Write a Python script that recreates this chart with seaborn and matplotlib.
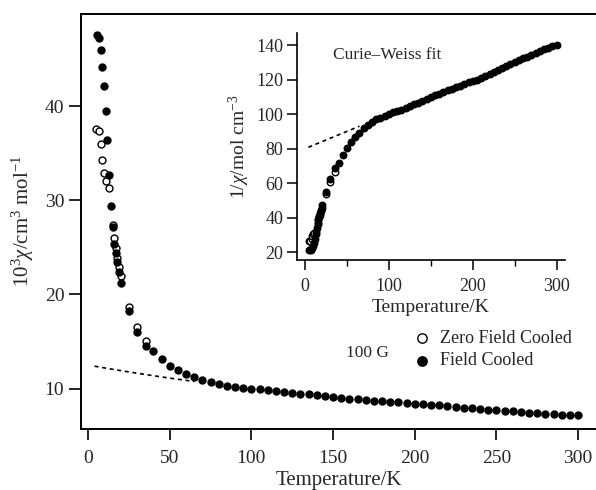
import numpy as np
import pandas as pd
import matplotlib
matplotlib.use('Agg')
import matplotlib.pyplot as plt
import seaborn as sns

# dados: temperatura (K) e 10^3 chi (cm3/mol)
fc_T = [5.3, 6.7, 7.7, 8.8, 9.6, 10.8, 11.8, 12.8, 14.1, 15.1, 15.8, 17.0, 18.0, 19.2, 20.2,
        25.3, 30.2, 35.3, 40, 45, 50, 55, 60, 65, 70, 75, 80, 85, 90, 95, 100, 105, 110,
        115, 120, 125, 130, 135, 140, 145, 150, 155, 160, 165, 170, 175, 180, 185, 190,
        195, 200, 205, 210, 215, 220, 225, 230, 235, 240, 245, 250, 255, 260, 265, 270,
        275, 280, 285, 290, 295, 300]
fc_chi = [47.55, 47.3, 46.0, 44.2, 42.1, 39.5, 36.4, 32.7, 29.4, 27.2, 25.4, 24.4, 23.4, 22.4, 21.2,
          18.2, 16.0, 14.5, 14.0, 13.1, 12.4, 11.95, 11.5, 11.2, 10.9, 10.7, 10.5, 10.3, 10.2, 10.1, 10.0, 9.9, 9.8,
          9.75, 9.65, 9.55, 9.45, 9.4, 9.3, 9.2, 9.12, 9.02, 8.94, 8.86, 8.78, 8.72, 8.65, 8.58, 8.52,
          8.45, 8.4, 8.33, 8.26, 8.2, 8.12, 8.05, 7.98, 7.9, 7.82, 7.75, 7.68, 7.62, 7.56, 7.5, 7.44,
          7.38, 7.32, 7.27, 7.22, 7.18, 7.15]
zfc_T = [4.9, 6.5, 8.0, 8.8, 9.6, 11.0, 12.9, 15.1, 15.6, 16.9, 18.0, 19.2, 20.0, 25.3, 30.2, 35.3]
zfc_chi = [37.6, 37.4, 36.0, 34.3, 32.9, 32.1, 31.3, 27.4, 26.0, 24.9, 23.9, 22.9, 22.0, 18.7, 16.5, 15.0]

# ajuste de Curie-Weiss: chi = C/(T - theta)
fit_C = 5.0
fit_theta = -400.0
fit_T = [4, 65]

df_fc = pd.DataFrame({'T': fc_T, 'chi': fc_chi})
df_zfc = pd.DataFrame({'T': zfc_T, 'chi': zfc_chi})
df_fc['inv'] = 1000 / df_fc['chi']
df_zfc['inv'] = 1000 / df_zfc['chi']
T_fit = np.linspace(fit_T[0], fit_T[1], 50)
df_fit = pd.DataFrame({'T': T_fit, 'chi': 1000 * fit_C / (T_fit - fit_theta)})
df_fit['inv'] = (T_fit - fit_theta) / fit_C

sns.set_theme(style='ticks')
plt.rcParams['font.family'] = ['Liberation Serif', 'DejaVu Serif']
plt.rcParams['mathtext.fontset'] = 'custom'
plt.rcParams['mathtext.rm'] = 'Liberation Serif'
plt.rcParams['mathtext.it'] = 'Liberation Serif:italic'

fig = plt.figure(figsize=(5.96, 4.9), dpi=100)
ax = fig.add_axes([81/596, 61/490, 515/596, 415/490])

sns.scatterplot(data=df_zfc, x='T', y='chi', ax=ax, s=25, color='white', edgecolor='black',
                linewidth=1.0, label='Zero Field Cooled', zorder=3)
sns.scatterplot(data=df_fc, x='T', y='chi', ax=ax, s=25, color='black', edgecolor='black',
                linewidth=1.0, label='Field Cooled', zorder=4)
sns.lineplot(data=df_fit, x='T', y='chi', ax=ax, color='black', lw=1.2, ls=(0, (2.4, 2.2)), zorder=2)

ax.set_xlim(-4.3, 311)
ax.set_ylim(5.7, 49.8)
ax.set_xticks([0, 50, 100, 150, 200, 250, 300])
ax.set_yticks([10, 20, 30, 40])
ax.tick_params(axis='both', direction='out', labelsize=14, width=1.2, color='black')
ax.tick_params(axis='x', length=8, pad=7)
ax.tick_params(axis='y', length=9, pad=3)
ax.set_xlabel('Temperature/K', fontsize=15, labelpad=3)
ax.set_ylabel(r'10$^3$$\chi$/cm$^3$ mol$^{-1}$', fontsize=15, labelpad=6)
for s in ['left', 'bottom', 'top']:
    ax.spines[s].set_linewidth(1.4)
    ax.spines[s].set_color('black')
ax.spines['right'].set_visible(False)

ax.legend(loc='upper left', bbox_to_anchor=(413/596, 1 - 330/490), bbox_transform=fig.transFigure,
          frameon=False, fontsize=13, borderpad=0, borderaxespad=0, handlelength=1.0,
          handletextpad=0.5, labelspacing=0.3, markerscale=1.35)
fig.text(367/596, 1 - 353/490, '100 G', ha='center', va='center', fontsize=12.5)

# grafico interno: 1/chi
axi = fig.add_axes([297/596, 230/490, 268/596, 227/490])
axi.set_facecolor('none')
sns.scatterplot(data=df_zfc, x='T', y='inv', ax=axi, s=22, color='white', edgecolor='black',
                linewidth=1.0, zorder=3, legend=False)
sns.scatterplot(data=df_fc, x='T', y='inv', ax=axi, s=22, color='black', edgecolor='black',
                linewidth=1.0, zorder=4, legend=False)
sns.lineplot(data=df_fit, x='T', y='inv', ax=axi, color='black', lw=1.2, ls=(0, (2.4, 2.2)), zorder=2)
axi.set_xlim(-9.5, 310)
axi.set_ylim(15.5, 147)
axi.set_xticks([0, 100, 200, 300])
axi.set_xticks([50, 150, 250], minor=True)
axi.set_yticks([20, 40, 60, 80, 100, 120, 140])
axi.tick_params(axis='both', direction='out', labelsize=13, width=1.1, length=7, pad=3, color='black')
axi.tick_params(axis='x', pad=6)
axi.tick_params(axis='x', which='minor', direction='out', width=1.0, length=4, color='black')
axi.set_xlabel('Temperature/K', fontsize=14, labelpad=3)
axi.set_ylabel(r'1/$\chi$/mol cm$^{-3}$', fontsize=14, labelpad=3)
for s in ['left', 'bottom']:
    axi.spines[s].set_linewidth(1.2)
    axi.spines[s].set_color('black')
axi.spines['top'].set_visible(False)
axi.spines['right'].set_visible(False)
fig.text(333/596, 1 - 55/490, 'Curie\u2013Weiss fit', ha='left', va='center', fontsize=12.5)

fig.savefig('out.png', dpi=100)
